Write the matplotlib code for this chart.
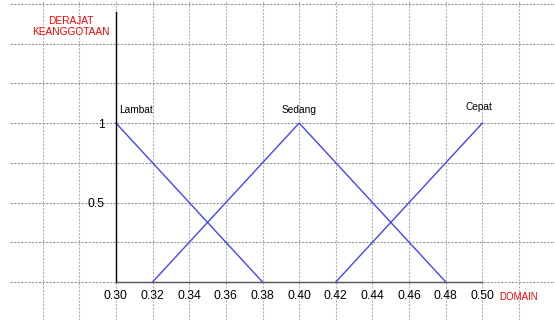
import matplotlib
matplotlib.use("Agg")
import matplotlib.pyplot as plt

plt.rcParams["font.family"] = ["Liberation Sans", "DejaVu Sans"]

# membership functions
lambat_x = [0.30, 0.38]
lambat_y = [1, 0]
sedang_x = [0.32, 0.40, 0.48]
sedang_y = [0, 1, 0]
cepat_x = [0.42, 0.50]
cepat_y = [0, 1]

x_ticks = [0.26, 0.28, 0.30, 0.32, 0.34, 0.36, 0.38, 0.40, 0.42, 0.44, 0.46, 0.48, 0.50, 0.52]
x_labels = ["", "", "0.30", "0.32", "0.34", "0.36", "0.38", "0.40", "0.42",
            "0.44", "0.46", "0.48", "0.50", ""]
y_ticks = [0, 0.25, 0.5, 0.75, 1.0, 1.25, 1.5, 1.75]
y_labels = ["", "", "0.5", "", "1", "", "", ""]

blue = "#4444ff"

fig = plt.figure(figsize=(5.55, 3.2), dpi=100)
ax = fig.add_axes([10 / 555, 0, 545 / 555, 1])
ax.set_xlim(0.2422, 0.5396)
ax.set_ylim(-0.239, 1.774)

ax.plot(lambat_x, lambat_y, color=blue, lw=1)
ax.plot(sedang_x, sedang_y, color=blue, lw=1)
ax.plot(cepat_x, cepat_y, color=blue, lw=1)

ax.text(0.302, 1.085, "Lambat", fontsize=7.3, va="center", ha="left")
ax.text(0.40, 1.085, "Sedang", fontsize=7.3, va="center", ha="center")
ax.text(0.498, 1.10, "Cepat", fontsize=7.3, va="center", ha="center")

ax.text(0.2755, 1.607, "DERAJAT\nKEANGGOTAAN", color="red", fontsize=7.3,
        ha="center", va="center", linespacing=1.05)
ax.text(0.509, -0.094, "DOMAIN", color="red", fontsize=7, ha="left", va="center")

ax.set_xticks(x_ticks)
ax.set_xticklabels(x_labels)
ax.set_yticks(y_ticks)
ax.set_yticklabels(y_labels)
ax.tick_params(length=0, labelsize=8.7)
ax.tick_params(axis="x", pad=5.5)
ax.tick_params(axis="y", pad=8)

# horizontal grid slightly darker than the vertical one
ax.yaxis.grid(True, color="#959595", linestyle=(0, (2, 1.2)), lw=0.8)
ax.xaxis.grid(True, color="#b4b4b4", linestyle=(0, (2, 1.2)), lw=0.8)
ax.set_axisbelow(True)

for side in ["top", "right"]:
    ax.spines[side].set_visible(False)
ax.spines["left"].set_position(("data", 0.30))
ax.spines["left"].set_bounds(0, 1.70)
ax.spines["left"].set_color("black")
ax.spines["left"].set_linewidth(1)
ax.spines["bottom"].set_position(("data", 0))
ax.spines["bottom"].set_bounds(0.30, 0.50)
ax.spines["bottom"].set_color("#555555")
ax.spines["bottom"].set_linewidth(1)

fig.savefig("out.png", dpi=100)
